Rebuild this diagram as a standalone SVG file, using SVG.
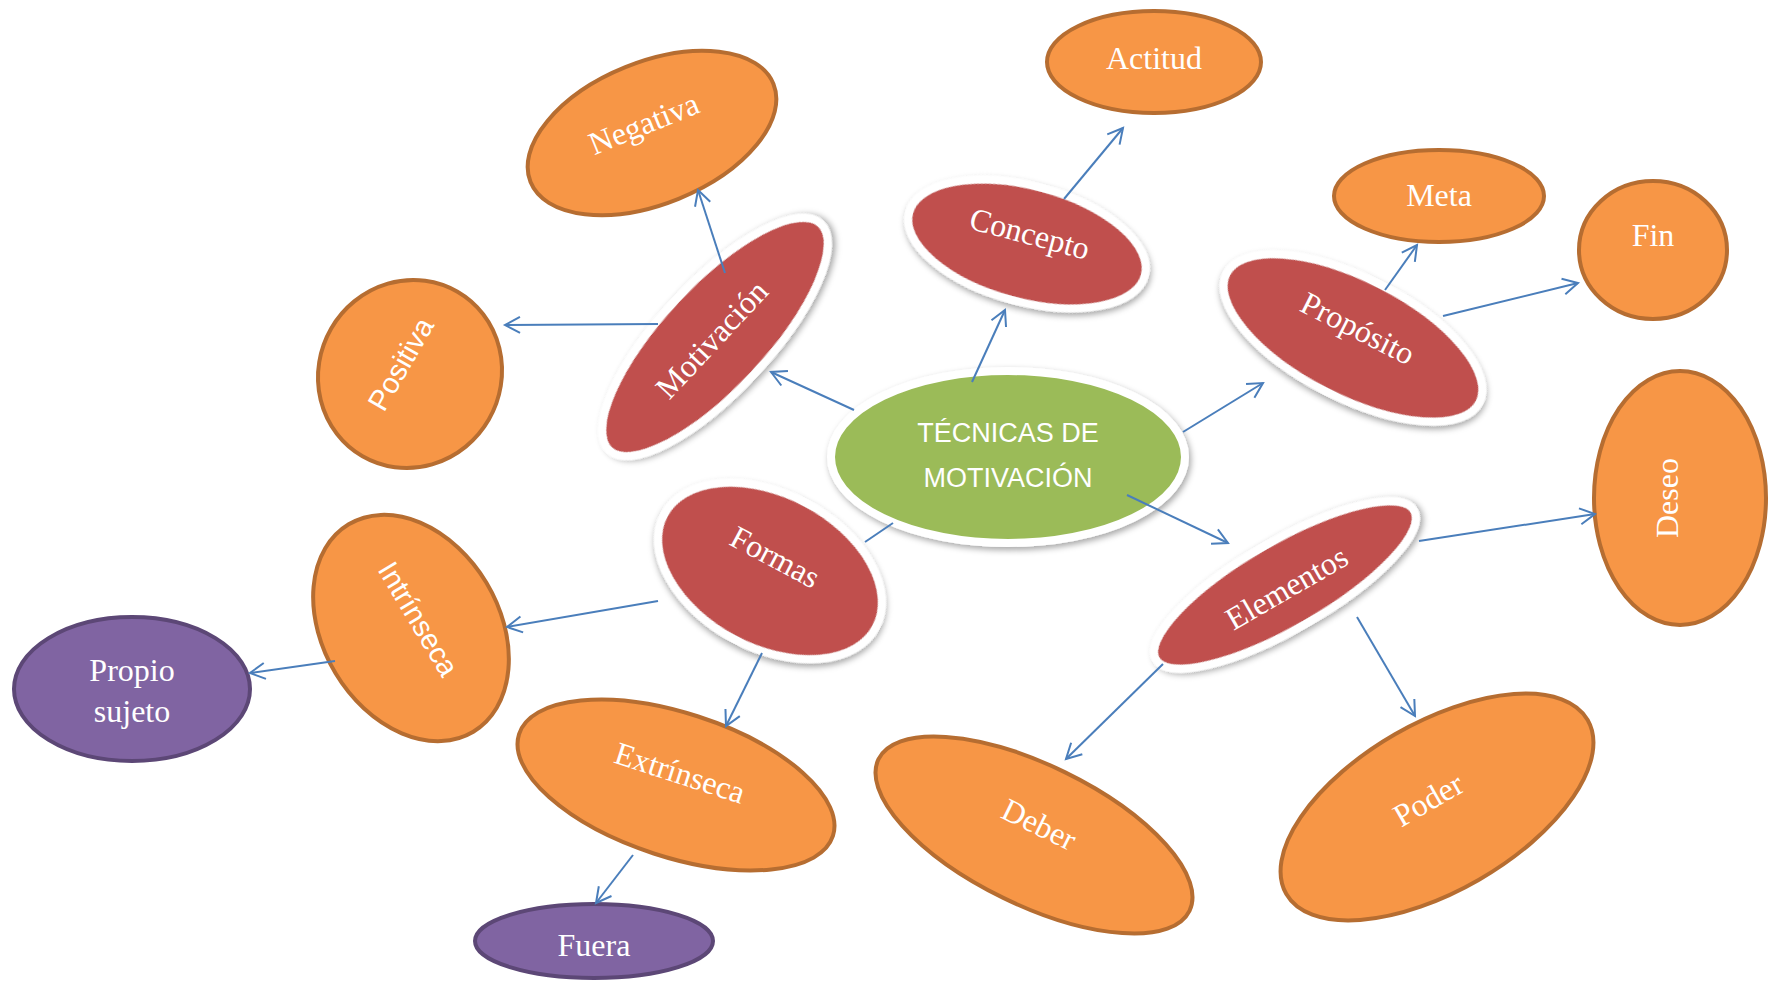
<svg xmlns="http://www.w3.org/2000/svg" width="1770" height="981" viewBox="0 0 1770 981">
<defs>
<filter id="sh" x="-20%" y="-20%" width="140%" height="140%">
<feDropShadow dx="2" dy="3" stdDeviation="3" flood-color="#000" flood-opacity="0.35"/>
</filter>
<marker id="arr" markerUnits="userSpaceOnUse" markerWidth="20" markerHeight="20" viewBox="-17 -10 20 20" refX="0" refY="0" orient="auto">
<path d="M-15,-8 L0,0 L-15,8" fill="none" stroke="#4a7ebb" stroke-width="2"/>
</marker>
</defs>
<style>
.red{fill:#c0504d;stroke:#fff;stroke-width:8;filter:url(#sh)}
.grn{fill:#9bbb59;stroke:#fff;stroke-width:8;filter:url(#sh)}
.org{fill:#f79646;stroke:#b66d31;stroke-width:4}
.pur{fill:#8064a2;stroke:#5c4776;stroke-width:4}
.t{font-family:"Liberation Serif",serif;font-size:32px;fill:#fff;text-anchor:middle}
.s{font-family:"Liberation Sans",sans-serif;font-size:29px;fill:#fff;text-anchor:middle}
.c{font-family:"Liberation Sans",sans-serif;font-size:27px;fill:#fff;text-anchor:middle}
.con line{stroke:#4a7ebb;stroke-width:2;fill:none}
</style>
<rect width="1770" height="981" fill="#fff"/>

<g id="tecnicas">
<ellipse class="grn" cx="1008" cy="457" rx="177" ry="86"/>
<text class="c" x="1008" y="442">TÉCNICAS DE</text>
<text class="c" x="1008" y="487">MOTIVACIÓN</text>
</g>

<g id="motivacion" transform="translate(715,337) rotate(-47)">
<ellipse class="red" cx="0" cy="0" rx="155" ry="54"/>
<text class="t" x="-4" y="10">Motivación</text>
</g>

<g id="negativa" transform="translate(652,133) rotate(-22)">
<ellipse class="org" cx="0" cy="0" rx="131" ry="71"/>
<text class="t" x="-4" y="-1">Negativa</text>
</g>

<g id="positiva" transform="translate(410,374) rotate(-60)">
<ellipse class="org" cx="0" cy="0" rx="95" ry="91"/>
<text class="s" x="4" y="-3">Positiva</text>
</g>

<g id="concepto" transform="translate(1027,244) rotate(15)">
<ellipse class="red" cx="0" cy="0" rx="122" ry="58"/>
<text class="t" x="0" y="0">Concepto</text>
</g>

<g id="actitud">
<ellipse class="org" cx="1154" cy="62" rx="107" ry="51"/>
<text class="t" x="1154" y="69">Actitud</text>
</g>

<g id="proposito" transform="translate(1353,338) rotate(27)">
<ellipse class="red" cx="0" cy="0" rx="142" ry="60"/>
<text class="t" x="0" y="0">Propósito</text>
</g>

<g id="meta">
<ellipse class="org" cx="1439" cy="196" rx="105" ry="46"/>
<text class="t" x="1439" y="206">Meta</text>
</g>

<g id="fin">
<ellipse class="org" cx="1653" cy="250" rx="74" ry="69"/>
<text class="t" x="1653" y="246">Fin</text>
</g>

<g id="elementos" transform="translate(1285,585) rotate(-30)">
<ellipse class="red" cx="0" cy="0" rx="149" ry="44"/>
<text class="t" x="0" y="14">Elementos</text>
</g>

<g id="deseo" transform="translate(1680,498)">
<ellipse class="org" cx="0" cy="0" rx="86" ry="127"/>
<text class="t" transform="rotate(-90)" x="0" y="-2">Deseo</text>
</g>

<g id="deber" transform="translate(1034,835) rotate(26)">
<ellipse class="org" cx="0" cy="0" rx="173" ry="70"/>
<text class="t" x="0" y="-1">Deber</text>
</g>

<g id="poder" transform="translate(1437,807) rotate(-30)">
<ellipse class="org" cx="0" cy="0" rx="174" ry="84"/>
<text class="t" x="-4" y="0">Poder</text>
</g>

<g id="formas" transform="translate(770,571) rotate(28)">
<ellipse class="red" cx="0" cy="0" rx="120" ry="77"/>
<text class="t" x="-2" y="-4">Formas</text>
</g>

<g id="intrinseca" transform="translate(411,628) rotate(59)">
<ellipse class="org" cx="0" cy="0" rx="121" ry="88"/>
<text class="s" x="-4" y="-1">Intrínseca</text>
</g>

<g id="propio">
<ellipse class="pur" cx="132" cy="689" rx="118" ry="72"/>
<text class="t" x="132" y="681">Propio</text>
<text class="t" x="132" y="722">sujeto</text>
</g>

<g id="extrinseca" transform="translate(676,785) rotate(18)">
<ellipse class="org" cx="0" cy="0" rx="165" ry="72"/>
<text class="t" x="0" y="-2">Extrínseca</text>
</g>

<g id="fuera">
<ellipse class="pur" cx="594" cy="941" rx="119" ry="37"/>
<text class="t" x="594" y="956">Fuera</text>
</g>

<g id="connectors" class="con">
<line x1="854" y1="410" x2="771" y2="372" marker-end="url(#arr)"/>
<line x1="725" y1="273" x2="698" y2="190" marker-end="url(#arr)"/>
<line x1="658" y1="324" x2="505" y2="325" marker-end="url(#arr)"/>
<line x1="972" y1="382" x2="1005" y2="310" marker-end="url(#arr)"/>
<line x1="1064" y1="199" x2="1123" y2="128" marker-end="url(#arr)"/>
<line x1="1183" y1="432" x2="1263" y2="383" marker-end="url(#arr)"/>
<line x1="1385" y1="290" x2="1417" y2="245" marker-end="url(#arr)"/>
<line x1="1443" y1="316" x2="1578" y2="283" marker-end="url(#arr)"/>
<line x1="1127" y1="495" x2="1228" y2="543" marker-end="url(#arr)"/>
<line x1="1419" y1="541" x2="1595" y2="514" marker-end="url(#arr)"/>
<line x1="1163" y1="664" x2="1066" y2="759" marker-end="url(#arr)"/>
<line x1="1357" y1="617" x2="1415" y2="716" marker-end="url(#arr)"/>
<line x1="893" y1="523" x2="865" y2="542"/>
<line x1="658" y1="601" x2="507" y2="627" marker-end="url(#arr)"/>
<line x1="762" y1="653" x2="726" y2="726" marker-end="url(#arr)"/>
<line x1="335" y1="661" x2="250" y2="673" marker-end="url(#arr)"/>
<line x1="633" y1="855" x2="596" y2="903" marker-end="url(#arr)"/>
</g>
</svg>
